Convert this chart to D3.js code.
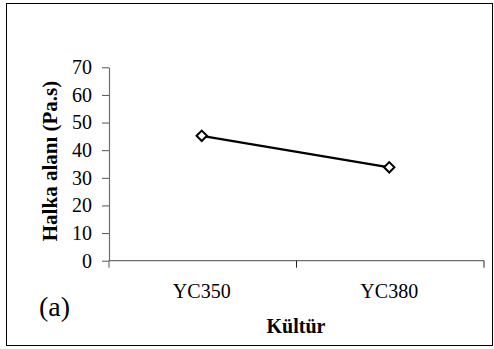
<!DOCTYPE html>
<html>
<head>
<meta charset="utf-8">
<script src="https://cdn.jsdelivr.net/npm/d3@7"></script>
<style>
  html, body { margin: 0; padding: 0; background: #fff; }
  svg { display: block; }
  svg text { font-family: "Liberation Serif", "Times New Roman", "DejaVu Serif", serif; }
</style>
</head>
<body>
<svg id="chart" width="494" height="349"></svg>
<script>
// Cultures on the x axis and their ring area values
const categories = ["YC350", "YC380"];
const values = [45.2, 33.8];
const yTicks = [0, 10, 20, 30, 40, 50, 60, 70];

const svg = d3.select("#chart");

// outer frame
svg.append("rect")
  .attr("x", 6.5).attr("y", 3.5)
  .attr("width", 486).attr("height", 342)
  .attr("fill", "#fff").attr("stroke", "#000").attr("stroke-width", 1);

const plot = { left: 109, right: 484, top: 67.3, bottom: 260.7 };

const x = d3.scaleBand().domain(categories).range([plot.left, plot.right]);
const y = d3.scaleLinear().domain([0, 70]).range([plot.bottom, plot.top]);

// y axis
const yAxis = svg.append("g")
  .attr("transform", `translate(${plot.left},0)`)
  .call(d3.axisLeft(y).tickValues(yTicks).tickSize(7).tickSizeOuter(0).tickPadding(10));
yAxis.attr("font-family", null).attr("font-size", null);
yAxis.select(".domain").attr("stroke", "#6e6e6e").attr("stroke-width", 1.2);
yAxis.selectAll(".tick line").attr("stroke", "#555").attr("stroke-width", 1);
yAxis.selectAll(".tick text")
  .style("font-size", "20px").attr("fill", "#000");

// x axis with tick marks on category boundaries
const xAxisG = svg.append("g").attr("transform", `translate(0,${plot.bottom})`);
xAxisG.append("line")
  .attr("x1", plot.left).attr("x2", plot.right)
  .attr("y1", 0).attr("y2", 0)
  .attr("stroke", "#6e6e6e").attr("stroke-width", 1.2);
const bounds = [plot.left, ...categories.map(c => x(c) + x.bandwidth())];
xAxisG.selectAll("line.bt").data(bounds).join("line")
  .attr("class", "bt")
  .attr("x1", d => d).attr("x2", d => d)
  .attr("y1", 0).attr("y2", 7)
  .attr("stroke", d => d === plot.left ? "#555" : "#222").attr("stroke-width", 1);
xAxisG.selectAll("text").data(categories).join("text")
  .attr("x", d => x(d) + x.bandwidth() / 2 - 1)
  .attr("y", 37)
  .attr("text-anchor", "middle")
  .style("font-size", "20px").attr("fill", "#000")
  .text(d => d);

// line series
const pts = categories.map((c, i) => [x(c) + x.bandwidth() / 2 - 1, y(values[i])]);
svg.append("path")
  .attr("d", d3.line()(pts))
  .attr("fill", "none").attr("stroke", "#000").attr("stroke-width", 2.2);

// diamond markers
svg.selectAll("path.mk").data(pts).join("path")
  .attr("class", "mk")
  .attr("transform", d => `translate(${d[0]},${d[1]})`)
  .attr("d", "M0,-5.2L5.2,0L0,5.2L-5.2,0Z")
  .attr("fill", "#fff").attr("stroke", "#000").attr("stroke-width", 2);

// axis titles
svg.append("text")
  .attr("transform", `translate(57,${(80 + 242) / 2}) rotate(-90)`)
  .attr("text-anchor", "middle")
  .style("font-size", "21px").attr("font-weight", "bold")
  .text("Halka alanı (Pa.s)");

svg.append("text")
  .attr("x", 296).attr("y", 333)
  .attr("text-anchor", "middle")
  .style("font-size", "20px").attr("font-weight", "bold")
  .text("Kültür");

// panel label
svg.append("text")
  .attr("x", 39).attr("y", 316)
  .style("font-size", "28px")
  .text("(a)");
</script>
</body>
</html>
